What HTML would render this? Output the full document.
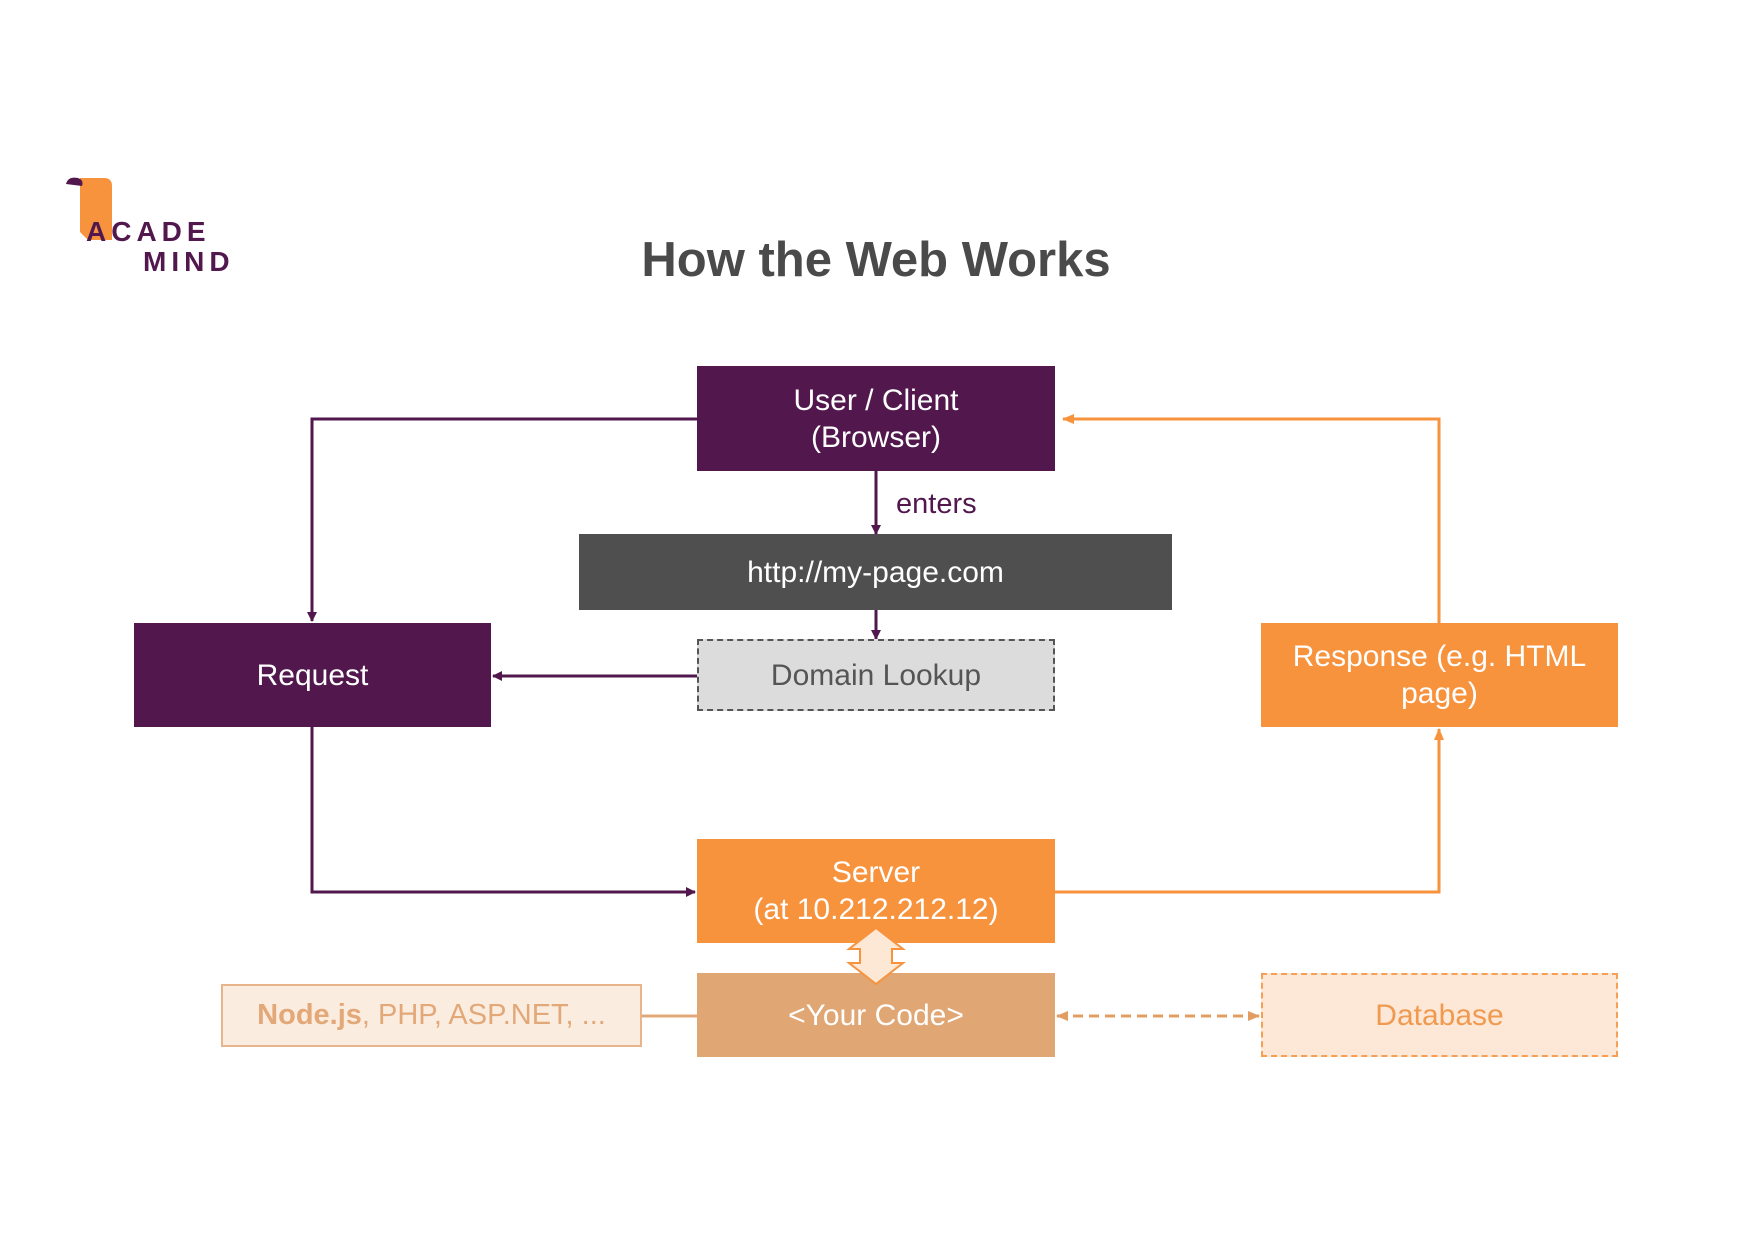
<!DOCTYPE html>
<html><head><meta charset="utf-8"><style>
body{margin:0;width:1754px;height:1240px;background:#fff;position:relative;overflow:hidden;font-family:"Liberation Sans",sans-serif}
.b{position:absolute;display:flex;align-items:center;justify-content:center;text-align:center;box-sizing:border-box;font-size:30px;line-height:37px;color:#fff}
</style></head><body>
<svg width="1754" height="1240" style="position:absolute;left:0;top:0">
<defs>
<marker id="p" markerWidth="10" markerHeight="10" refX="9" refY="5" orient="auto" markerUnits="userSpaceOnUse"><path d="M0,0 L10,5 L0,10z" fill="#52184e"/></marker>
<marker id="o" markerWidth="12" markerHeight="10" refX="11" refY="5" orient="auto" markerUnits="userSpaceOnUse"><path d="M0,0 L12,5 L0,10z" fill="#f7923d"/></marker>
<marker id="t" markerWidth="12" markerHeight="10" refX="11" refY="5" orient="auto-start-reverse" markerUnits="userSpaceOnUse"><path d="M0,0 L12,5 L0,10z" fill="#e39c62"/></marker>
</defs>
<path d="M80,178 L104,178 Q112,178 112,186 L112,240 L88,240 L80,232 Z" fill="#f7923d"/>
<path d="M66,184 Q68,176 78,178 Q84,180 82,186 Z" fill="#52184e"/>
<g fill="none" stroke-width="3">
<polyline points="697,419 312,419 312,621" stroke="#52184e" marker-end="url(#p)"/>
<polyline points="312,727 312,892 695,892" stroke="#52184e" marker-end="url(#p)"/>
<line x1="697" y1="676" x2="493" y2="676" stroke="#52184e" marker-end="url(#p)"/>
<line x1="876" y1="471" x2="876" y2="534" stroke="#52184e" marker-end="url(#p)"/>
<line x1="876" y1="610" x2="876" y2="639" stroke="#52184e" marker-end="url(#p)"/>
<polyline points="1055,892 1439,892 1439,729" stroke="#f7923d" marker-end="url(#o)"/>
<polyline points="1439,623 1439,419 1063,419" stroke="#f7923d" marker-end="url(#o)"/>
<line x1="642" y1="1016" x2="697" y2="1016" stroke="#e3a878"/>
<line x1="1057" y1="1016" x2="1259" y2="1016" stroke="#e39c62" stroke-dasharray="10,6" marker-end="url(#t)" marker-start="url(#t)"/>
</g>
</svg>
<div style="position:absolute;left:86px;top:216px;font-size:28px;font-weight:bold;color:#52184e;letter-spacing:5px">ACADE</div>
<div style="position:absolute;left:143px;top:246px;font-size:28px;font-weight:bold;color:#52184e;letter-spacing:5px">MIND</div>
<div style="position:absolute;left:0;width:1752px;top:232px;text-align:center;font-size:49px;font-weight:bold;color:#4a4a4a">How the Web Works</div>
<div class="b" style="left:697px;top:366px;width:358px;height:105px;background:#52184e">User / Client<br>(Browser)</div>
<div style="position:absolute;left:896px;top:488px;font-size:29px;color:#52184e">enters</div>
<div class="b" style="left:579px;top:534px;width:593px;height:76px;background:#4f4f4f">http://my-page.com</div>
<div class="b" style="left:697px;top:639px;width:358px;height:72px;background:#dcdcdc;border:2px dashed #555;color:#555">Domain Lookup</div>
<div class="b" style="left:134px;top:623px;width:357px;height:104px;background:#52184e">Request</div>
<div class="b" style="left:1261px;top:623px;width:357px;height:104px;background:#f7923d;padding:0 10px">Response (e.g. HTML page)</div>
<div class="b" style="left:697px;top:839px;width:358px;height:104px;background:#f7923d">Server<br>(at 10.212.212.12)</div>
<div class="b" style="left:697px;top:973px;width:358px;height:84px;background:#e0a674">&lt;Your Code&gt;</div>
<div class="b" style="left:221px;top:984px;width:421px;height:63px;background:#fbece0;border:2px solid #e8b48c;color:#e3a878;font-size:29px"><span><b>Node.js</b>, PHP, ASP.NET, ...</span></div>
<div class="b" style="left:1261px;top:973px;width:357px;height:84px;background:#fde8d8;border:2px dashed #f7a055;color:#f09a50">Database</div>
<svg width="1754" height="1240" style="position:absolute;left:0;top:0">
<path d="M876,928 L903,949 L892,949 L892,963 L903,963 L876,984 L849,963 L860,963 L860,949 L849,949 Z" fill="#fde8d6" stroke="#f7923d" stroke-width="2"/>
</svg>
</body></html>
